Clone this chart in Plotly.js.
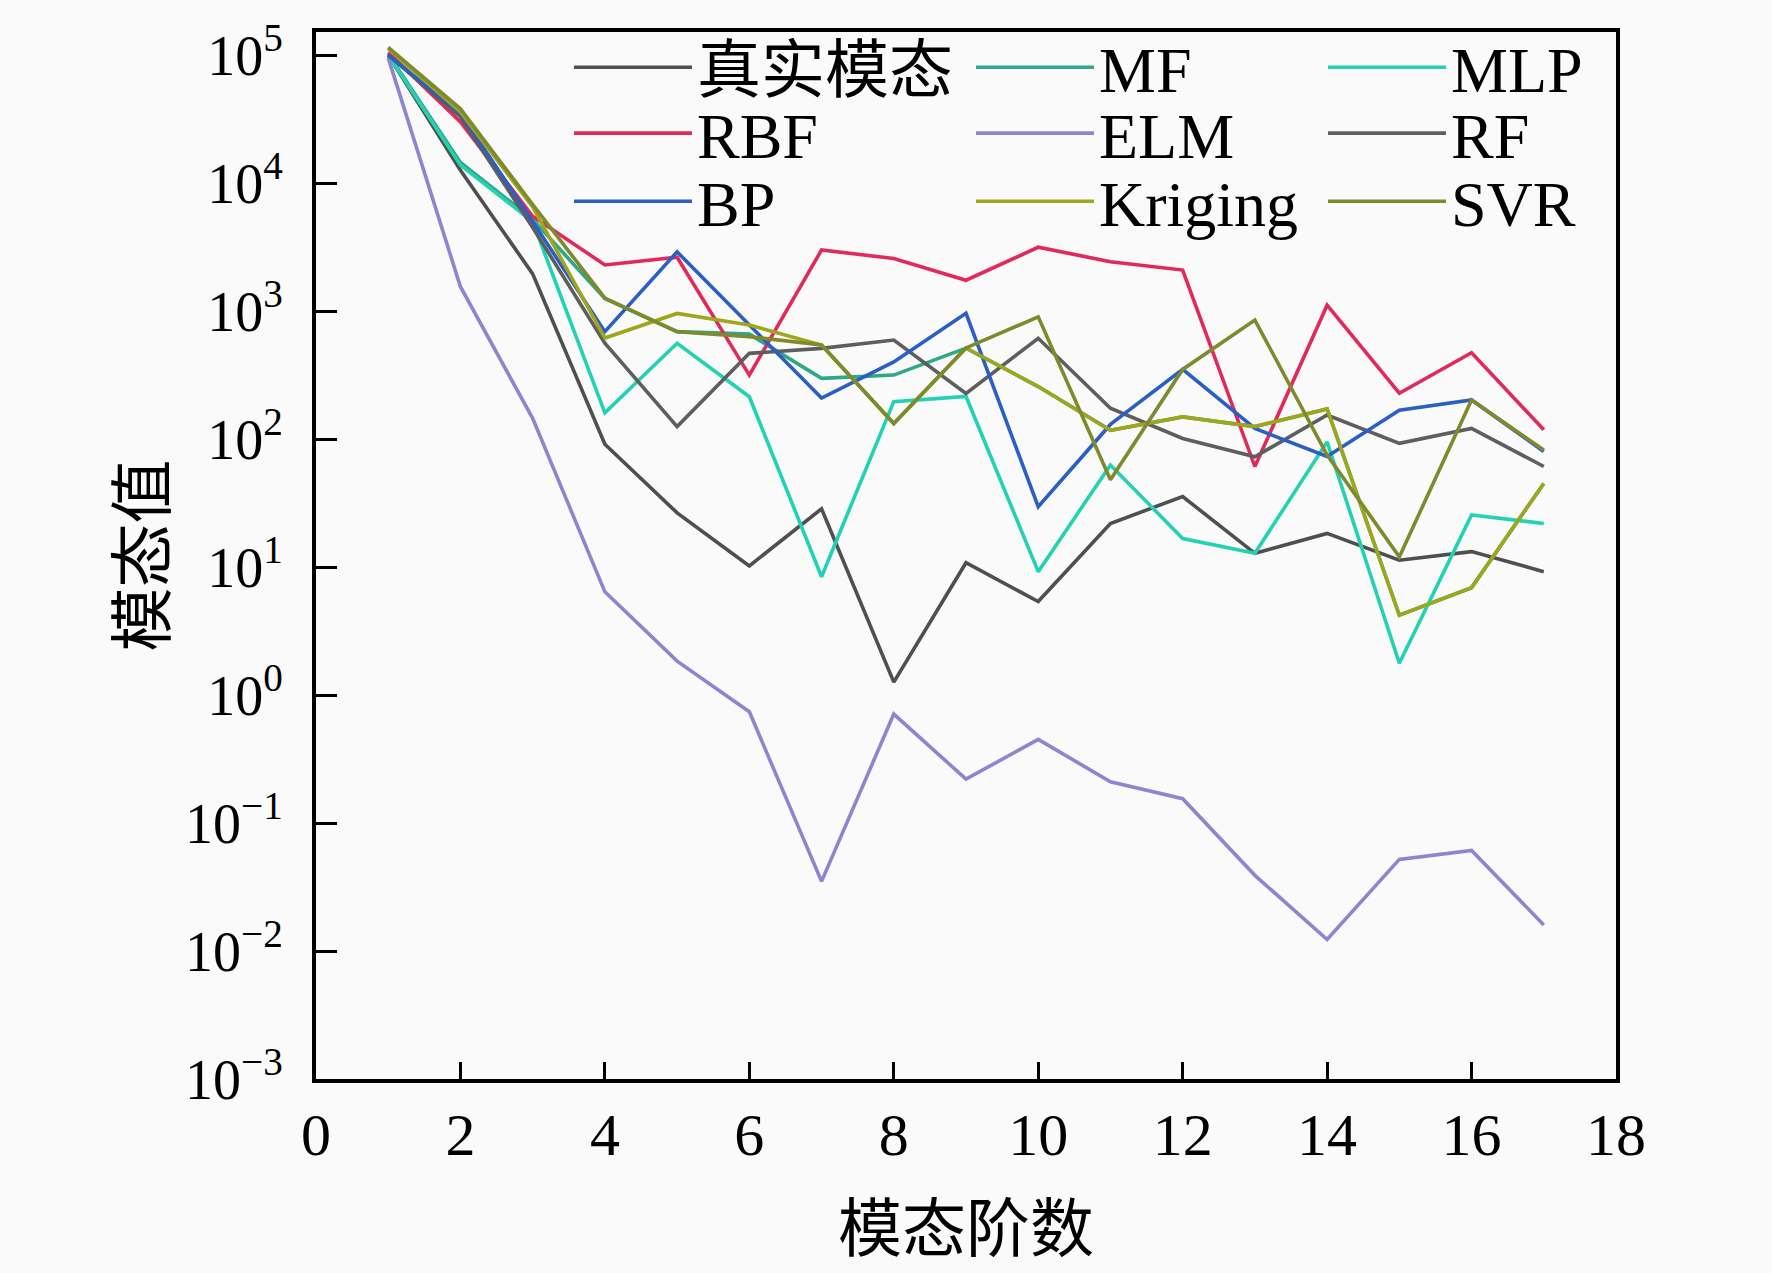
<!DOCTYPE html>
<html>
<head>
<meta charset="utf-8">
<script src="https://cdn.plot.ly/plotly-3.0.1.min.js"></script>
<style>html,body{margin:0;padding:0;background:#fafafa;}</style>
</head>
<body>
<div id="chart" style="width:1772px;height:1273px;"></div>
<script>
// mode order (x)
const modeOrder = [1,2,3,4,5,6,7,8,9,10,11,12,13,14,15,16,17];

// series values
const trueModal = [1.0e5, 1.26e4, 1950, 91, 26.5, 10.2, 28.5, 1.26, 10.8, 5.37, 21.9, 35.5, 12.8, 18.3, 11.3, 13.2, 9.2];
const mfVals    = [1.02e5, 1.45e4, 5200, 1250, 690, 660, 298, 316, 513, 257, 117, 149, 125, 172, 4.2, 6.9, 45];
const mlpVals   = [1.0e5, 1.38e4, 5000, 160, 560, 214, 8.4, 196, 215, 9.2, 62.7, 16.7, 12.8, 95, 1.77, 25.5, 21.9];
const rbfVals   = [1.05e5, 3.0e4, 5500, 2290, 2630, 316, 3000, 2570, 1740, 3150, 2430, 2090, 61, 1110, 228, 473, 118];
const elmVals   = [9.5e4, 1550, 145, 6.4, 1.84, 0.74, 0.035, 0.71, 0.22, 0.45, 0.21, 0.155, 0.039, 0.0123, 0.052, 0.061, 0.016];
const rfVals    = [1.0e5, 3.3e4, 4500, 560, 125, 467, 511, 593, 227, 612, 174, 101, 72.6, 154, 92.5, 121, 61];
const bpVals    = [1.0e5, 3.5e4, 5000, 690, 2900, 770, 209, 400, 960, 29.6, 130, 350, 121, 73, 168, 202, 80];
const krigVals  = [1.12e5, 3.6e4, 6500, 615, 957, 777, 542, 132, 515, 257, 117, 149, 125, 172, 4.2, 6.9, 45];
const svrVals   = [1.15e5, 3.8e4, 6800, 1260, 689, 630, 542, 132, 515, 900, 48, 350, 850, 75, 12, 202, 82];

// tick labels
const xTickVals = [0,2,4,6,8,10,12,14,16,18];
const yTickVals = [1e-3,1e-2,1e-1,1e0,1e1,1e2,1e3,1e4,1e5];
const yTickText = ['10<sup>\u22123</sup>','10<sup>\u22122</sup>','10<sup>\u22121</sup>','10<sup>0</sup>','10<sup>1</sup>','10<sup>2</sup>','10<sup>3</sup>','10<sup>4</sup>','10<sup>5</sup>'];

const seriesNames = ['真实模态','MF','MLP','RBF','ELM','RF','BP','Kriging','SVR'];
const seriesData = [trueModal, mfVals, mlpVals, rbfVals, elmVals, rfVals, bpVals, krigVals, svrVals];
const seriesColors = ['#4f4f4f','#2ea886','#22d2b2','#e02a5c','#8f85cf','#5e5e5e','#2b5fc4','#a0a61c','#7e8a2c'];
const legendIds = ['legend','legend','legend','legend2','legend2','legend2','legend3','legend3','legend3'];
const legendWidths = [269,219,150,269,219,150,269,219,150];

const traces = seriesNames.map((n,i)=>({
  x: modeOrder, y: seriesData[i], name: n, type:'scatter', mode:'lines',
  line:{color: seriesColors[i], width: 3.6},
  legend: legendIds[i], legendwidth: legendWidths[i]
}));

const FONT = 'Liberation Serif, Times New Roman, Noto Sans CJK SC, serif';
function leg(y){
  return {x:0.1946, xanchor:'left', y:y, yanchor:'middle', orientation:'h',
    bgcolor:'rgba(0,0,0,0)', borderwidth:0, itemwidth:118,
    font:{family:FONT, size:64, color:'#000'}, tracegroupgap:0};
}

const layout = {
  width:1772, height:1273,
  margin:{l:316, r:156, t:32, b:194},
  paper_bgcolor:'#fafafa', plot_bgcolor:'#fafafa',
  font:{family:FONT, color:'#000'},
  showlegend:true,
  legend: leg(0.9660),
  legend2: leg(0.9030),
  legend3: leg(0.8380),
  xaxis:{
    range:[0,18], tickvals:xTickVals, ticks:'inside', ticklen:17, tickwidth:3, tickcolor:'#000',
    showline:true, linewidth:4, linecolor:'#000', mirror:true, showgrid:false, zeroline:false,
    tickfont:{family:FONT, size:60, color:'#000'}, ticklabelstandoff:0,
    title:{text:'模态阶数', font:{family:FONT, size:64, color:'#000'}, standoff:40}
  },
  yaxis:{
    type:'log', range:[-3, 5.18], tickvals:yTickVals, ticktext:yTickText,
    ticks:'inside', ticklen:21, tickwidth:3, tickcolor:'#000',
    showline:true, linewidth:4, linecolor:'#000', mirror:true, showgrid:false, zeroline:false,
    tickfont:{family:FONT, size:56, color:'#000'}, ticklabelstandoff:18,
    title:{text:'模态值', font:{family:FONT, size:64, color:'#000'}, standoff:0}
  }
};

Plotly.newPlot('chart', traces, layout, {displayModeBar:false, staticPlot:true});
</script>
</body>
</html>
